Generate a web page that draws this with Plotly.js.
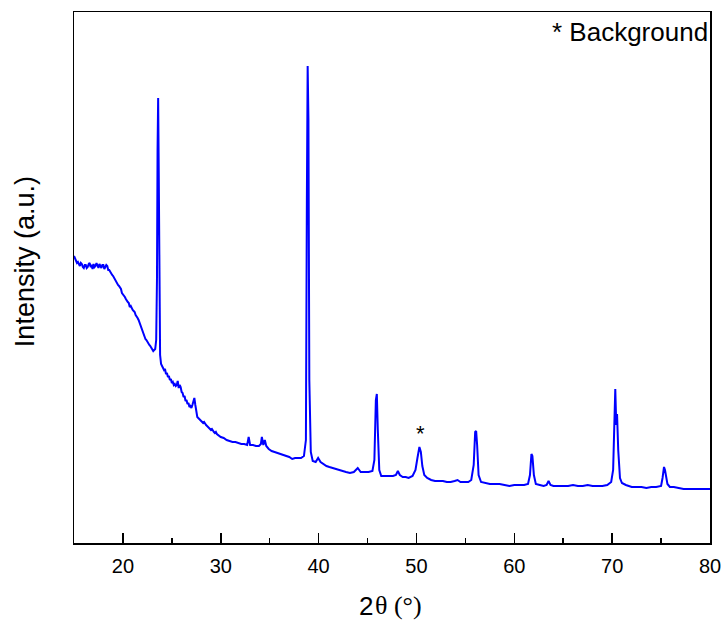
<!DOCTYPE html>
<html>
<head>
<meta charset="utf-8">
<script src="https://cdn.plot.ly/plotly-3.0.1.min.js"></script>
<style>html,body{margin:0;padding:0;background:#fff;}#chart{width:728px;height:629px;}</style>
</head>
<body>
<div id="chart"></div>
<script>
// 2-theta positions (degrees)
const twoTheta = [
15.0,15.1,15.2,15.3,15.4,15.5,15.6,15.7,15.8,15.9,
16.0,16.1,16.2,16.3,16.4,16.5,16.6,16.7,16.8,16.9,
17.0,17.1,17.2,17.3,17.4,17.5,17.6,17.7,17.8,17.9,
18.0,18.1,18.2,18.3,18.4,18.5,18.6,18.7,18.8,18.9,
19.0,19.1,19.2,19.3,19.4,19.5,19.6,19.7,19.8,19.9,
20.0,20.1,20.2,20.3,20.4,20.5,20.6,20.7,20.8,20.9,
21.0,21.1,21.2,21.3,21.4,21.5,21.6,21.7,21.8,21.9,
22.0,22.1,22.2,22.3,22.4,22.5,22.6,22.7,22.8,22.9,
23.0,23.1,23.2,23.3,23.4,23.48,23.54,23.6,23.66,23.72,
23.8,23.9,24.0,24.1,24.2,24.3,24.4,24.5,24.6,24.7,
24.8,24.9,25.0,25.1,25.2,25.3,25.4,25.5,25.6,25.7,
25.8,25.9,26.0,26.1,26.2,26.3,26.4,26.5,26.6,26.7,
26.8,26.9,27.0,27.1,27.2,27.3,27.4,27.5,27.6,27.7,
27.8,27.9,28.0,28.1,28.2,28.3,28.4,28.5,28.6,28.7,
28.8,28.9,29.0,29.1,29.2,29.3,29.4,29.5,29.6,29.7,
29.8,29.9,30.0,30.3,30.6,30.9,31.2,31.5,31.8,32.1,
32.4,32.7,32.85,33.0,33.3,33.6,33.9,34.1,34.2,34.35,
34.5,34.65,34.9,35.2,35.5,35.8,36.1,36.4,36.7,37.0,
37.3,37.6,37.9,38.2,38.5,38.7,38.8,38.88,38.96,39.05,
39.2,39.4,39.7,39.95,40.2,40.5,40.8,41.1,41.4,41.7,
42.0,42.4,42.8,43.2,43.6,44.0,44.3,44.7,45.1,45.5,
45.7,45.85,45.95,46.05,46.2,46.4,46.8,47.2,47.6,47.9,
48.1,48.3,48.6,48.9,49.2,49.6,49.9,50.1,50.3,50.45,
50.6,50.8,51.1,51.5,51.9,52.3,52.7,53.1,53.5,53.9,
54.2,54.5,54.9,55.3,55.6,55.85,56.0,56.1,56.2,56.35,
56.6,57.0,57.5,58.0,58.5,59.0,59.5,60.0,60.5,61.0,
61.4,61.6,61.75,61.85,62.0,62.2,62.6,63.0,63.3,63.5,
63.7,64.0,64.5,65.0,65.5,66.0,66.5,67.0,67.5,68.0,
68.5,69.0,69.5,69.9,70.1,70.25,70.32,70.42,70.5,70.62,
70.8,71.0,71.4,72.0,72.5,73.0,73.5,74.0,74.5,75.0,
75.15,75.3,75.4,75.5,75.65,75.9,76.3,76.8,77.3,77.8,
78.3,78.8,79.3,80.0
];
// Intensity (a.u.)
const intensity = [
287,284,283,280,281,278,277,280,279,276,
275,278,278,275,276,279,280,276,277,274,
279,276,277,280,278,275,279,277,275,278,
278,274,276,278,277,273,273,271,270,268,
267,265,263,262,260,258,257,256,254,250,
249,247,246,244,242,241,240,236,237,234,
233,232,231,228,227,225,223,220,217,214,
211,209,207,204,203,201,200,198,197,195,
194,192,193,194,203,263,393,445,373,243,
188,179,177,176,173,174,169,170,166,167,
163,164,160,161,158,159,157,158,162,155,
158,156,151,150,146,147,142,143,139,140,
136,137,135,138,142,145,138,132,126,125,
124,123,122,121,120,121,119,118,117,116,
115,115,113,114,112,111,110,111,109,108,
108,107,106,105,103,102,101,101,100,99,
99,98,106,98,98,97,97,99,106,98,
103,97,94,92,91,90,89,88,87,86,
84,85,85,85,87,103,343,477,423,163,
91,82,81,85,81,79,77,76,75,74,
73,72,71,70,71,75,71,71,71,72,
83,143,149,113,73,67,67,67,67,68,
72,68,66,66,65,67,73,85,96,91,
77,68,65,63,62,62,62,61,61,62,
63,61,61,61,63,78,111,112,98,68,
61,60,59,59,59,58,57,58,58,58,
59,68,89,87,68,59,58,57,58,62,
58,57,57,57,57,58,57,57,58,57,
57,57,58,61,73,143,154,118,129,93,
65,60,58,56,56,56,55,56,56,57,
65,76,73,67,59,56,56,55,54,54,
54,54,54,54
];
const xTicks = [20,30,40,50,60,70,80];
const xTickText = ['20','30','40','50','60','70','80'];
const markX = 50.4, markY = 110;

const font = 'Arial, "Liberation Sans", sans-serif';
const serif = '"Liberation Serif", "Times New Roman", serif';
Plotly.newPlot('chart', [{
  x: twoTheta, y: intensity, type: 'scatter', mode: 'lines',
  line: {color: '#0000ff', width: 2}, hoverinfo: 'skip'
}], {
  width: 728, height: 629,
  margin: {l: 74, r: 18, t: 12, b: 86},
  paper_bgcolor: '#fff', plot_bgcolor: '#fff',
  showlegend: false,
  xaxis: {
    range: [15, 80], tickvals: xTicks, ticktext: xTickText,
    ticks: 'inside', ticklen: 10, tickwidth: 1.5, tickcolor: '#000',
    minor: {dtick: 5, tick0: 15, ticks: 'inside', ticklen: 5, tickwidth: 1.5, tickcolor: '#000', showgrid: false},
    showline: true, linecolor: '#000', linewidth: 1.5, mirror: true,
    showgrid: false, zeroline: false,
    ticklabelstandoff: 4,
    tickfont: {family: font, size: 20, color: '#000'}
  },
  yaxis: {
    range: [0, 531], showticklabels: false, ticks: '',
    showline: true, linecolor: '#000', linewidth: 1.5, mirror: true,
    showgrid: false, zeroline: false
  },
  annotations: [
    {x: 1, y: 0.962, xref: 'paper', yref: 'paper', xanchor: 'right', yanchor: 'middle',
     text: '* Background', showarrow: false, font: {family: font, size: 26, color: '#000'}},
    {x: markX, y: markY, xref: 'x', yref: 'y', xanchor: 'center', yanchor: 'middle',
     text: '*', showarrow: false, font: {family: font, size: 22, color: '#000'}},
    {x: -0.077, y: 0.529, xref: 'paper', yref: 'paper', xanchor: 'center', yanchor: 'middle',
     textangle: -90, text: 'Intensity (a.u.)', showarrow: false, font: {family: font, size: 27, color: '#000'}},
    {x: 0.4717, y: -0.1186, xref: 'paper', yref: 'paper', xanchor: 'right', yanchor: 'middle',
     text: '2', showarrow: false, borderpad: 0, font: {family: font, size: 26, color: '#000'}},
    {x: 0.4717, y: -0.1186, xref: 'paper', yref: 'paper', xanchor: 'left', yanchor: 'middle',
     text: 'θ (°)', showarrow: false, borderpad: 0, font: {family: serif, size: 26, color: '#000'}}
  ]
}, {staticPlot: true});
</script>
</body>
</html>
